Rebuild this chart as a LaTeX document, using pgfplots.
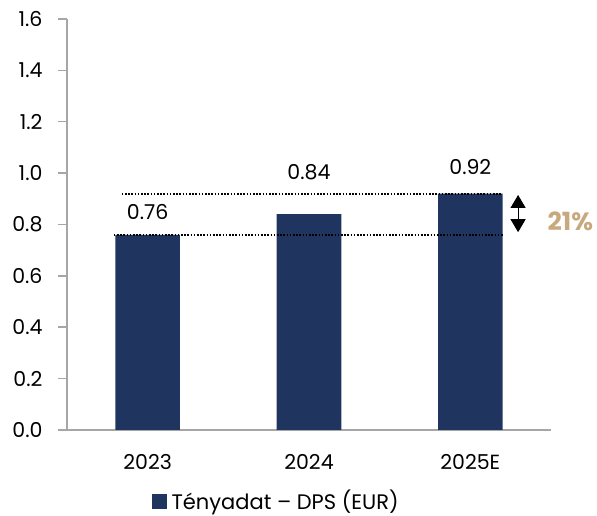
\documentclass[border=0pt]{standalone}
\usepackage{fontspec}
\setmainfont{Poppins}
\usepackage{pgfplots}
\pgfplotsset{compat=1.18}
\usetikzlibrary{arrows.meta}
\definecolor{navy}{HTML}{1F355F}
\definecolor{tan}{HTML}{C8A97E}
\definecolor{axgray}{HTML}{A6A6A6}

\begin{document}
\begin{tikzpicture}[x=1pt,y=1pt]
\useasboundingbox (-67,-86) rectangle (530,430);
\begin{axis}[
  at={(0,0)}, anchor=south west,
  scale only axis, width=484pt, height=411pt,
  xmin=-0.5, xmax=2.5, ymin=0, ymax=1.6,
  axis lines=left,
  axis line style={-, axgray, line width=1.5pt},
  tick align=outside,
  xtick={0,1,2},
  xticklabels={2023,2024,2025E},
  minor xtick={-0.5,0.5,1.5,2.5},
  xtick style={draw=none},
  minor x tick style={axgray, line width=1.5pt},
  minor tick length=9pt,
  ytick={0,0.2,0.4,0.6,0.8,1.0,1.2,1.4,1.6},
  ytick style={axgray, line width=1.5pt},
  major tick length=9pt,
  yticklabel style={/pgf/number format/fixed, /pgf/number format/fixed zerofill, /pgf/number format/precision=1, xshift=-12pt},
  xticklabel style={yshift=-12pt},
  /pgf/number format/assume math mode=true,
  tick label style={font=\fontsize{20.5}{24}\selectfont},
  clip=false,
  legend style={at={(0.432,-0.172)}, anchor=center, draw=none, fill=none,
    font=\fontsize{21}{24}\selectfont, inner sep=0pt},
  legend image code/.code={\fill[navy] (0pt,-8pt) rectangle (15pt,7pt); \path (18pt,0pt);},
]
\addplot[ybar, bar width=0.4, bar shift=0pt, fill=navy, draw=none] coordinates {
  (0,0.76) (1,0.84) (2,0.92)
};
\addlegendentry{Tényadat – DPS (EUR)}

\addplot[black, line width=2.2pt, dash pattern=on 1.6pt off 1.6pt, forget plot] coordinates {
  (-0.16,0.92) (2.2,0.92)
};
\addplot[black, line width=2.2pt, dash pattern=on 1.6pt off 1.6pt, forget plot] coordinates {
  (-0.21,0.76) (2.2,0.76)
};

\node[font=\fontsize{20.5}{24}\selectfont] at (axis cs:0,0.848) {0.76};
\node[font=\fontsize{20.5}{24}\selectfont] at (axis cs:1,1.004) {0.84};
\node[font=\fontsize{20.5}{24}\selectfont] at (axis cs:2,1.023) {0.92};

\draw[{Triangle[width=15pt,length=13pt]}-{Triangle[width=15pt,length=13pt]}, line width=1pt]
  (axis cs:2.296,0.915) -- (axis cs:2.296,0.77);
\node[font=\fontsize{25}{29}\selectfont\bfseries, text=tan] at (axis cs:2.62,0.813) {21\%};
\end{axis}
\end{tikzpicture}
\end{document}
